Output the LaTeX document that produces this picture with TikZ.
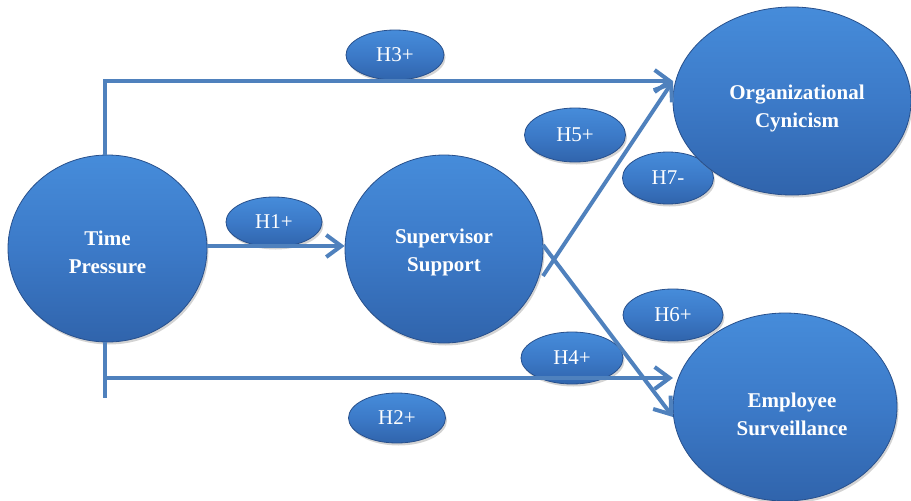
\documentclass[tikz,border=0pt]{standalone}
\usepackage{fontspec}
\setmainfont{Liberation Serif}
\usetikzlibrary{arrows.meta,shadows,shapes.geometric,calc}
\definecolor{lineblue}{RGB}{79,129,189}
\definecolor{topblue}{RGB}{70,140,218}
\definecolor{midblue}{RGB}{60,122,200}
\definecolor{botblue}{RGB}{48,100,172}
\definecolor{rimblue}{RGB}{40,80,140}
\tikzset{
  bubble/.style={ellipse, inner sep=0pt, top color=topblue, bottom color=botblue, middle color=midblue,
     draw=rimblue, line width=0.8pt, text=white, align=center,
     drop shadow={opacity=0.35, shadow xshift=1.5pt, shadow yshift=-2.5pt}},
  bignode/.style={bubble},
  bigtext/.style={text=white, align=center, inner sep=0pt, font=\fontsize{21}{28}\selectfont\bfseries},
  hyp/.style={bubble, font=\fontsize{21}{24}\selectfont},
  conn/.style={draw=lineblue, line width=4pt},
  arr/.style={conn, -{Straight Barb[length=15pt,width=22pt]}},
}
\begin{document}
\begin{tikzpicture}[x=1pt,y=-1pt]
\useasboundingbox (0,0) rectangle (911,501);
% hypothesis labels
\node[hyp, minimum width=98, minimum height=50] (h3) at (395,55) {H3+};
\node[hyp, minimum width=96, minimum height=50] (h1) at (274,222) {H1+};
\node[hyp, minimum width=97, minimum height=50] (h2) at (397,418) {H2+};
\node[hyp, minimum width=101, minimum height=54] (h5) at (575,135) {H5+};
\node[hyp, minimum width=91, minimum height=52] (h7) at (668,178) {H7-};
\node[hyp, minimum width=100, minimum height=52] (h6) at (673,315) {H6+};
\node[hyp, minimum width=102, minimum height=52] (h4) at (572,358) {H4+};
% main constructs
\node[bignode, minimum width=199, minimum height=187] (tp) at (107.5,248.5) {};
\node[bignode, minimum width=198, minimum height=188] (ss) at (444,249) {};
\node[bignode, minimum width=238, minimum height=188] (oc) at (792,101) {};
\node[bignode, minimum width=224, minimum height=188] (es) at (785,407) {};
\node[bigtext] (tpt) at (107.5,252.5) {Time\\Pressure};
\node[bigtext] (sst) at (444,252) {Supervisor\\Support};
\node[bigtext] (oct) at (797,108) {Organizational\\Cynicism};
\node[bigtext] (est) at (792,414) {Employee\\Surveillance};
% connector points
\coordinate (octip) at (673,81);
\coordinate (estip) at (673,417);
\coordinate (tpbot) at (105,398);
% connectors
\draw[arr] (tp.north -| 105,0) |- (octip);
\draw[conn] (tp.south -| 105,0) -- (tpbot);
\draw[arr] (105,378) -- (673,378) coordinate (h2tip);
\draw[arr] (tp.east |- 0,246) -- (ss.west |- 0,246);
\draw[arr] ($(ss.center)+(99,27)$) -- (octip);
\draw[arr] ($(ss.center)+(99,-4)$) -- (estip);
\end{tikzpicture}
\end{document}
